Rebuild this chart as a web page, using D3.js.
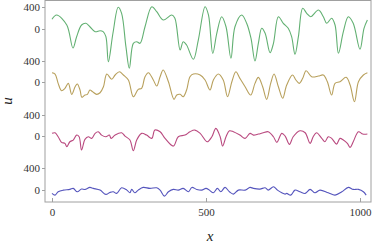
<!DOCTYPE html>
<html><head><meta charset="utf-8">
<script src="https://cdn.jsdelivr.net/npm/d3@7"></script>
<style>body{margin:0;background:#fff}svg{display:block}</style>
</head><body><svg id="c" width="374" height="244"></svg>
<script>
// series (x positions, u values), plotted with vertical offsets of 1000
const seriesNames = ["green", "olive", "magenta", "blue"];
const seriesColors = ["#62b072", "#b8a05c", "#b9497f", "#5555bd"];
const seriesOffsets = [0, -1000, -2000, -3000];

const xGreen = [0,15,48,68,80,96,110,123,140,156,166,175,183,198,215,226,240,251,264,275,286,302,324,340,361,389,399,416,426,437,459,475,497,508,522,535,551,565,581,594,616,632,646,659,670,681,692,708,719,735,751,767,778,789,800,814,827,840,865,881,892,908,919,930,946,962,978,1000,1013,1024];
const uGreen = [171,251,65,-362,-152,65,97,33,-59,-41,-59,-152,-617,-84,394,282,-338,-739,-275,-245,-275,33,405,312,158,251,190,-399,-245,-307,-572,-214,405,251,-461,-89,219,33,-554,33,251,97,-180,-604,-275,4,-89,-450,-275,219,97,4,-152,-479,-152,375,282,219,344,219,97,190,65,-461,-59,219,97,-386,4,158];

const xOlive = [0,10,20,31,42,53,64,75,82,91,97,107,115,123,132,145,156,167,178,194,205,219,232,248,264,280,291,302,313,329,340,351,361,378,396,405,416,426,437,448,459,481,497,513,524,540,556,570,584,597,610,627,645,659,670,684,697,710,721,735,749,762,781,792,803,814,825,843,865,881,894,908,919,935,955,968,982,995,1011,1024];
const uOlive = [178,154,-19,-156,-111,-19,-223,-82,-32,-143,-279,-236,-223,-143,-175,-223,-193,-82,154,56,136,197,136,43,-268,-130,-111,104,178,43,-69,104,229,11,-316,-236,-223,-268,-143,104,154,136,43,-143,43,154,43,-268,11,197,74,-82,-236,-19,93,-82,-316,-19,154,-82,-297,-50,136,43,-19,74,216,104,117,136,11,-236,-19,11,93,-50,-360,11,136,178];

const xMagenta = [0,10,20,31,42,48,58,69,80,88,96,107,118,129,140,150,161,175,186,192,205,226,237,253,264,275,291,307,324,334,351,367,394,410,432,448,464,481,504,519,532,546,554,565,576,589,610,627,643,654,670,686,702,719,730,746,757,771,783,805,822,838,848,859,876,886,897,908,924,935,946,959,968,978,995,1009,1024];
const uMagenta = [52,63,-11,-115,-134,-197,-104,-72,20,-11,-258,-59,-11,-41,52,82,20,-11,20,-41,20,63,2,-72,-271,-72,52,20,-41,113,82,-41,-184,-11,20,82,113,52,-104,-11,145,-11,-184,-11,100,82,20,-41,52,20,39,63,82,-11,-115,52,2,-152,-11,100,63,-134,-11,63,-41,-104,-11,-41,-147,-41,-72,-134,-208,-104,82,39,39];

const xBlue = [0,10,20,37,58,69,82,96,107,123,134,156,175,188,199,210,226,243,253,259,269,280,296,318,340,351,365,378,394,410,426,443,454,470,486,500,511,524,537,548,562,576,589,605,627,643,654,675,692,702,719,732,746,757,762,775,789,805,822,838,854,870,897,919,941,962,978,995,1011,1020];
const uBlue = [-63,-95,-33,-2,11,30,-33,17,11,48,30,-2,-82,-45,-33,-63,41,-2,-50,11,-52,-2,48,30,41,-2,-113,-33,11,-2,30,-33,48,11,-2,30,-2,-52,30,-33,48,-33,-76,-2,-2,48,30,17,41,-2,59,-2,-52,-76,-63,-95,-2,-33,-63,11,-52,-2,-52,-95,-33,48,11,11,-33,-95];

const xTickValues = [0, 500, 1000];
const yTickValues = [400, 0];

const svg = d3.select("#c");
const L = 45, R = 371, T = 0.5, B = 202;
const x = d3.scaleLinear().domain([0, 1000]).range([52, 360]);
const y = d3.scaleLinear().domain([-3000, 0]).range([190, 28.5]);

const xs = [xGreen, xOlive, xMagenta, xBlue];
const us = [uGreen, uOlive, uMagenta, uBlue];

// frame
svg.append("rect").attr("x", L).attr("y", T).attr("width", R - L).attr("height", B - T)
  .attr("fill", "none").attr("stroke", "#a0a0a0").attr("stroke-width", 1);

const line = d3.line().x(d => x(d[0])).y(d => y(d[1])).curve(d3.curveCatmullRom.alpha(0.5));
seriesNames.forEach((n, i) => {
  const pts = xs[i].map((xv, j) => [xv, us[i][j] + seriesOffsets[i]]);
  svg.append("path").datum(pts).attr("d", line).attr("fill", "none")
    .attr("stroke", seriesColors[i]).attr("stroke-width", 1.1);
});

const font = "'Liberation Serif', 'DejaVu Serif', serif";
// y ticks
seriesOffsets.forEach(off => {
  yTickValues.forEach(v => {
    const yy = Math.round(y(v + off)) + 0.5;
    svg.append("line").attr("x1", L - 3).attr("x2", L).attr("y1", yy).attr("y2", yy)
      .attr("stroke", "#a0a0a0");
    svg.append("text").attr("x", L - 5).attr("y", yy + 3.5).attr("text-anchor", "end")
      .attr("font-family", font).attr("font-size", 11).attr("fill", "#333").text(v);
  });
});
// x ticks
xTickValues.forEach(v => {
  const xx = Math.round(x(v)) + 0.5;
  svg.append("line").attr("x1", xx).attr("x2", xx).attr("y1", B).attr("y2", B - 4)
    .attr("stroke", "#a0a0a0");
  svg.append("text").attr("x", xx).attr("y", 216).attr("text-anchor", "middle")
    .attr("font-family", font).attr("font-size", 11).attr("fill", "#333").text(v);
});
// axis labels
svg.append("text").attr("x", 210).attr("y", 241).attr("text-anchor", "middle")
  .attr("font-family", font).attr("font-style", "italic").attr("font-size", 15).attr("fill", "#222").text("x");
svg.append("text").attr("transform", "translate(12,101) rotate(-90)").attr("text-anchor", "middle")
  .attr("font-family", font).attr("font-style", "italic").attr("font-size", 15).attr("fill", "#222").text("u");
</script></body></html>
